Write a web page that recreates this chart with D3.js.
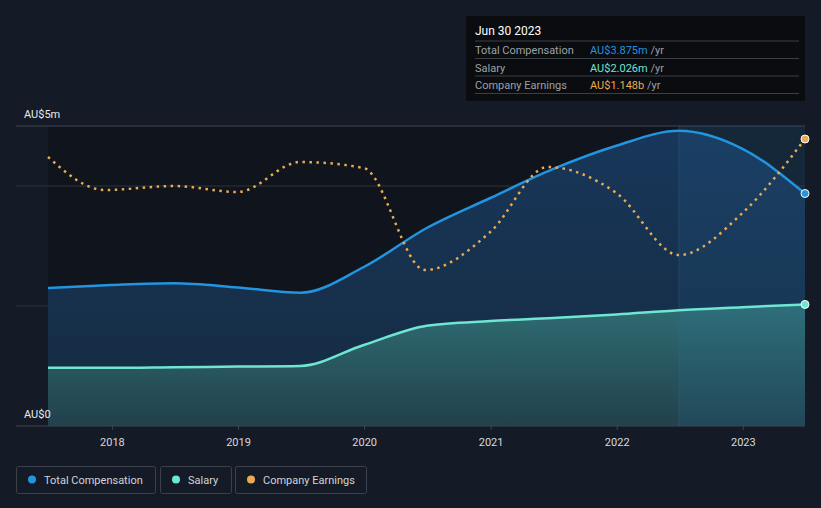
<!DOCTYPE html>
<html>
<head>
<meta charset="utf-8">
<script src="https://cdn.jsdelivr.net/npm/d3@7"></script>
<style>
  body { margin: 0; background: #151b26; }
  svg { display: block; font-family: Roboto, "Noto Sans", sans-serif; }
</style>
</head>
<body>
<div id="chart"></div>
<script>
// Data (AU$ m for pay, AU$ b for earnings)
const payDates = ['2017-06-30', '2017-12-31', '2018-06-30', '2018-12-31', '2019-06-30', '2019-12-31',
  '2020-06-30', '2020-12-31', '2021-06-30', '2021-12-31', '2022-06-30', '2022-12-31', '2023-06-30'];
const totalComp = [2.30, 2.35, 2.38, 2.31, 2.22, 2.65, 3.30, 3.80, 4.28, 4.67, 4.92, 4.62, 3.875];
const salary = [0.97, 0.97, 0.98, 0.99, 1.00, 1.35, 1.67, 1.75, 1.80, 1.86, 1.93, 1.98, 2.026];

const earnDates = ['2017-06-30', '2017-12-10', '2018-06-30', '2018-12-31', '2019-06-30', '2019-12-31',
  '2020-06-25', '2020-12-31', '2021-06-15', '2021-12-31', '2022-06-30', '2022-12-31', '2023-06-30'];
const earnings = [1.076, 0.944, 0.96, 0.936, 1.056, 1.032, 0.624, 0.776, 1.036, 0.932, 0.684, 0.852, 1.148];

const yearTicks = [2018, 2019, 2020, 2021, 2022, 2023];
const yTickLabels = [{ v: 0, t: 'AU$0' }, { v: 5, t: 'AU$5m' }];
const gridValues = [2, 4];
const hoverDate = '2022-06-30';

const legendItems = [
  { name: 'Total Compensation', color: '#2394df' },
  { name: 'Salary', color: '#6ee6d2' },
  { name: 'Company Earnings', color: '#e9ab53' }
];
const tooltipRows = [
  { label: 'Total Compensation', value: 'AU$3.875m', color: '#2394df' },
  { label: 'Salary', value: 'AU$2.026m', color: '#6ee6d2' },
  { label: 'Company Earnings', value: 'AU$1.148b', color: '#e9ab53' }
];

//Visual
const width = 821;
const height = 508;
const parse = d3.timeParse('%Y-%m-%d');

const pay = payDates.map((d, i) => ({ date: parse(d), total: totalComp[i], salary: salary[i] }));
const earn = earnDates.map((d, i) => ({ date: parse(d), value: earnings[i] }));

const x = d3.scaleTime()
  .domain([parse('2017-06-30'), parse('2023-06-30')])
  .range([48, 805]);
const y = d3.scaleLinear().domain([0, 5]).range([426, 126]);
const yEarn = d3.scaleLinear().domain([0, 1.2]).range([426, 126]);

const svg = d3.select('#chart')
  .append('svg')
  .attr('width', width)
  .attr('height', height);

const defs = svg.append('defs');
const gSal = defs.append('linearGradient').attr('id', 'gSal').attr('x1', 0).attr('y1', 0).attr('x2', 0).attr('y2', 1);
gSal.append('stop').attr('offset', '0%').attr('stop-color', '#2f6d73');
gSal.append('stop').attr('offset', '100%').attr('stop-color', '#22414c');
const gTot = defs.append('linearGradient').attr('id', 'gTot').attr('x1', 0).attr('y1', 0).attr('x2', 0).attr('y2', 1);
gTot.append('stop').attr('offset', '0%').attr('stop-color', '#18375a');
gTot.append('stop').attr('offset', '100%').attr('stop-color', '#152a40');

// plot background
const xHover = x(parse(hoverDate));
svg.append('rect')
  .attr('x', x.range()[0]).attr('y', y(5))
  .attr('width', xHover - x.range()[0]).attr('height', y(0) - y(5))
  .attr('fill', '#10141c');
svg.append('rect')
  .attr('x', xHover).attr('y', y(5))
  .attr('width', x.range()[1] - xHover).attr('height', y(0) - y(5))
  .attr('fill', '#131d2a');

// grid
svg.selectAll('.grid')
  .data(gridValues)
  .enter()
  .append('line')
  .attr('x1', 16).attr('x2', 805)
  .attr('y1', d => y(d)).attr('y2', d => y(d))
  .attr('stroke', '#2c323d').attr('stroke-width', 1);
svg.append('line')
  .attr('x1', 16).attr('x2', 805)
  .attr('y1', y(5)).attr('y2', y(5))
  .attr('stroke', '#3f4550');

const curve = d3.curveMonotoneX;

// areas
svg.append('path')
  .datum(pay)
  .attr('d', d3.area().x(d => x(d.date)).y0(y(0)).y1(d => y(d.total)).curve(curve))
  .attr('fill', 'url(#gTot)');
svg.append('path')
  .datum(pay)
  .attr('d', d3.area().x(d => x(d.date)).y0(y(0)).y1(d => y(d.salary)).curve(curve))
  .attr('fill', 'url(#gSal)');

// hover band highlight
svg.append('rect')
  .attr('x', xHover).attr('y', y(5))
  .attr('width', x.range()[1] - xHover).attr('height', y(0) - y(5))
  .attr('fill', '#2a7fb8').attr('opacity', 0.12);
svg.append('line')
  .attr('x1', xHover).attr('x2', xHover)
  .attr('y1', y(5)).attr('y2', y(0))
  .attr('stroke', '#3a6a8e').attr('stroke-opacity', 0.35).attr('stroke-width', 1);

// lines
svg.append('path')
  .datum(pay)
  .attr('d', d3.line().x(d => x(d.date)).y(d => y(d.salary)).curve(curve))
  .attr('fill', 'none').attr('stroke', '#6ee6d2').attr('stroke-width', 2.5);
svg.append('path')
  .datum(pay)
  .attr('d', d3.line().x(d => x(d.date)).y(d => y(d.total)).curve(curve))
  .attr('fill', 'none').attr('stroke', '#2394df').attr('stroke-width', 2.5);
svg.append('path')
  .datum(earn)
  .attr('d', d3.line().x(d => x(d.date)).y(d => yEarn(d.value)).curve(curve))
  .attr('fill', 'none').attr('stroke', '#e9ab53').attr('stroke-width', 2.5)
  .attr('stroke-dasharray', '2.5,4.5');

// end markers
const last = pay[pay.length - 1];
const lastE = earn[earn.length - 1];
[
  { cx: x(last.date), cy: y(last.total), c: '#2394df' },
  { cx: x(last.date), cy: y(last.salary), c: '#6ee6d2' },
  { cx: x(lastE.date), cy: yEarn(lastE.value), c: '#e9ab53' }
].forEach(m => {
  svg.append('circle').attr('cx', m.cx).attr('cy', m.cy).attr('r', 4)
    .attr('fill', m.c).attr('stroke', '#ffffff').attr('stroke-width', 1);
});

// x axis
svg.append('line')
  .attr('x1', 16).attr('x2', 805)
  .attr('y1', y(0)).attr('y2', y(0))
  .attr('stroke', '#3f4550');
const xAxis = svg.append('g')
  .attr('transform', `translate(0,${y(0)})`)
  .call(d3.axisBottom(x)
    .tickValues(yearTicks.map(yr => new Date(yr, 0, 1)))
    .tickFormat(d3.timeFormat('%Y'))
    .tickSize(4)
    .tickPadding(8));
xAxis.select('.domain').remove();
xAxis.selectAll('line').attr('stroke', '#3f4550');
xAxis.selectAll('text')
  .attr('fill', '#d5d8dd')
  .style('font-size', '11px')
  .style('font-family', 'Roboto, sans-serif');

// y labels
svg.selectAll('.ylab')
  .data(yTickLabels)
  .enter()
  .append('text')
  .text(d => d.t)
  .attr('x', 24)
  .attr('y', d => y(d.v) - 8)
  .attr('fill', '#e8eaed')
  .style('font-size', '11px');

// tooltip
const tip = svg.append('g').attr('transform', 'translate(466,16)');
tip.append('rect').attr('width', 339).attr('height', 85).attr('fill', '#0a0c10');
tip.append('text').text('Jun 30 2023')
  .attr('x', 9).attr('y', 19).attr('fill', '#ffffff').style('font-size', '12px');
tooltipRows.forEach((r, i) => {
  const ty = 25 + i * 17.5;
  tip.append('line').attr('x1', 9).attr('x2', 333).attr('y1', ty).attr('y2', ty).attr('stroke', '#3a3e45');
  tip.append('text').text(r.label)
    .attr('x', 9).attr('y', ty + 13).attr('fill', '#9ca1a8').style('font-size', '11px');
  const t = tip.append('text').attr('x', 124).attr('y', ty + 13).style('font-size', '11px');
  t.append('tspan').text(r.value).attr('fill', r.color);
  t.append('tspan').text(' /yr').attr('fill', '#9ca1a8');
});
tip.append('line').attr('x1', 9).attr('x2', 333).attr('y1', 77.5).attr('y2', 77.5).attr('stroke', '#3a3e45');

// legend
const legendX = [16, 160, 235];
const legendW = [139, 71, 131];
legendItems.forEach((item, i) => {
  const g = svg.append('g').attr('transform', `translate(${legendX[i]},466)`);
  g.append('rect').attr('x', 0.5).attr('y', 0.5).attr('width', legendW[i]).attr('height', 27)
    .attr('rx', 2).attr('fill', 'none').attr('stroke', '#3c414b');
  g.append('circle').attr('cx', 16).attr('cy', 13.5).attr('r', 4).attr('fill', item.color);
  g.append('text').text(item.name).attr('x', 28).attr('y', 17.5)
    .attr('fill', '#d0d3d8').style('font-size', '11px');
});
</script>
</body>
</html>
